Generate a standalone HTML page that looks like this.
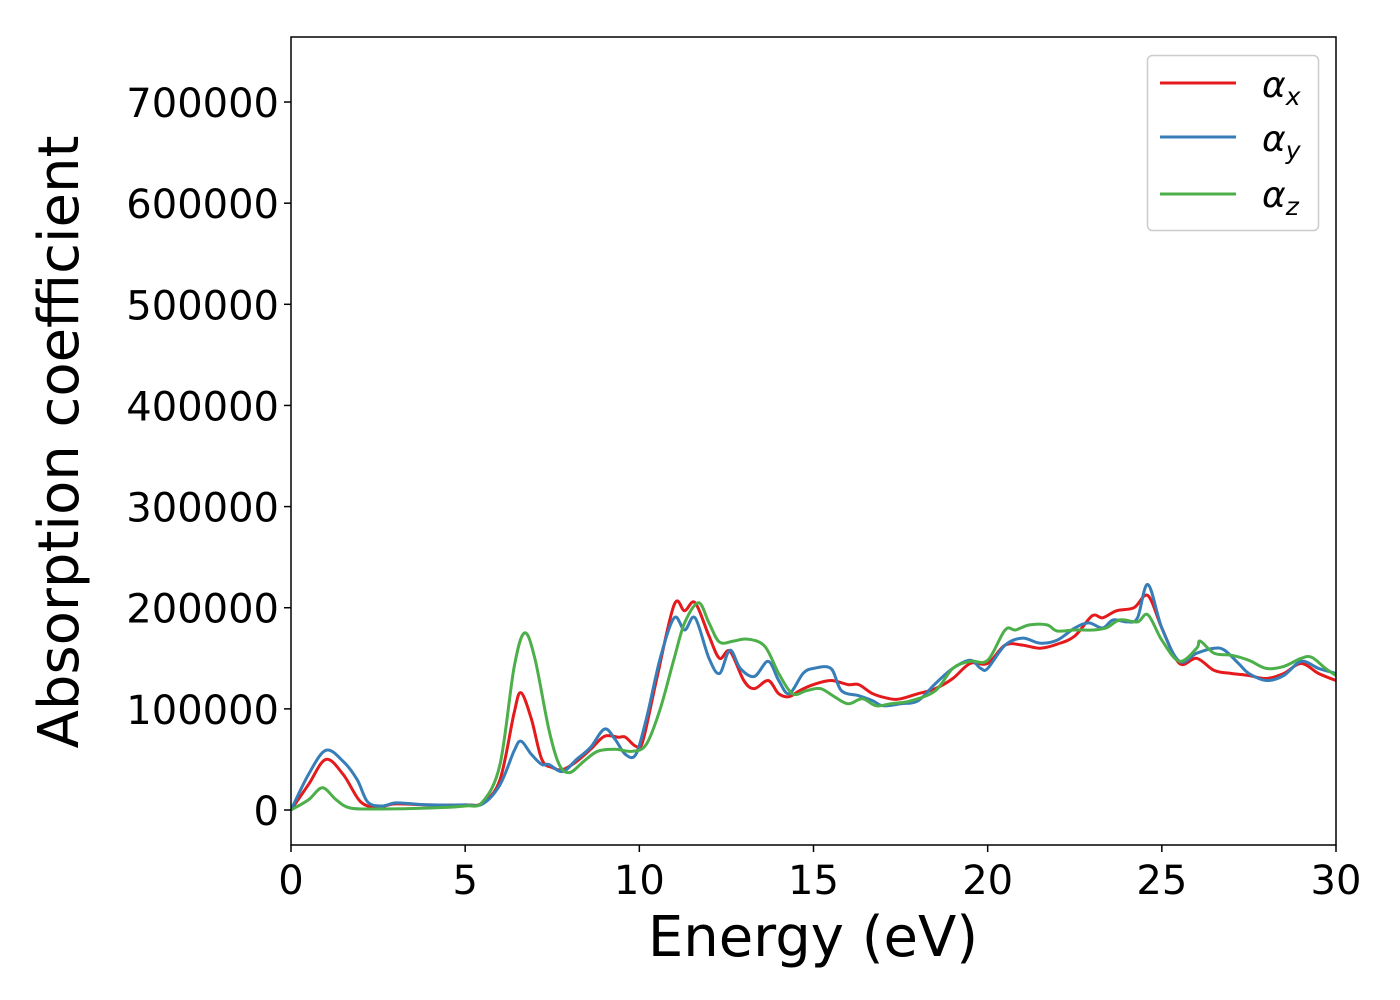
<!DOCTYPE html>
<html><head><meta charset="utf-8"><style>
html,body{margin:0;padding:0;background:#fff;}
svg{display:block;font-family:"DejaVu Sans","Liberation Sans",sans-serif;}
</style></head><body>
<svg id="chart" width="1400" height="1000" viewBox="0 0 1400 1000" xmlns="http://www.w3.org/2000/svg">
<rect x="0" y="0" width="1400" height="1000" fill="#fff"/>
<g id="plot"></g>
<g id="axes"></g>
<text x="813" y="956" font-size="56" text-anchor="middle" fill="#000">Energy (eV)</text>
<text transform="translate(78,442) rotate(-90)" font-size="56" text-anchor="middle" fill="#000">Absorption coefficient</text>
<g>
<rect x="1147.5" y="55.5" width="171" height="175" rx="5" fill="#fff" stroke="#ccc" stroke-width="1.5"/>
<line x1="1160" y1="83" x2="1236" y2="83" stroke="#e41a1c" stroke-width="3"/>
<line x1="1160" y1="137" x2="1236" y2="137" stroke="#377eb8" stroke-width="3"/>
<line x1="1160" y1="194" x2="1236" y2="194" stroke="#4daf4a" stroke-width="3"/>
<text x="1262" y="97" font-size="36" font-style="italic">α<tspan font-size="25" dy="8">x</tspan></text>
<text x="1262" y="151" font-size="36" font-style="italic">α<tspan font-size="25" dy="8">y</tspan></text>
<text x="1262" y="207" font-size="36" font-style="italic">α<tspan font-size="25" dy="8">z</tspan></text>
</g>
</svg>
<script>
const xTicks=[0,5,10,15,20,25,30];
const yTicks=[0,100000,200000,300000,400000,500000,600000,700000];
const ex=[0,0.5,1.0,1.5,2.0,2.5,3,4,5,5.5,6,6.4,6.6,6.9,7.2,7.5,7.8,8.2,8.6,9.0,9.4,9.6,9.9,10.1,10.5,11.0,11.3,11.6,12.0,12.3,12.6,13.0,13.3,13.7,14.0,14.3,14.6,15.0,15.5,16.0,16.3,16.7,17.2,17.5,18.0,18.5,19.0,19.5,20.0,20.5,21.0,21.5,22.0,22.5,23.0,23.3,23.7,24.2,24.6,25.0,25.5,26.0,26.5,27.0,27.5,28.0,28.5,29.0,29.5,30];
const ax=[0,25,50,35,8,3,6,5,5,7,30,95,116,90,50,42,40,48,60,73,72,72,63,68,130,203,197,205,172,150,157,128,120,128,115,112,118,124,128,124,124,115,110,110,115,120,130,145,145,163,163,160,164,172,192,190,197,200,212,180,145,150,138,135,133,130,135,145,135,128];
const ey=[0,0.5,1.0,1.5,1.9,2.2,2.6,3,3.5,4,5,5.5,6,6.4,6.6,6.9,7.2,7.4,7.8,8.2,8.6,9.0,9.3,9.6,9.9,10.2,10.6,11.0,11.3,11.6,12.0,12.3,12.6,12.9,13.3,13.7,14.0,14.3,14.7,15.0,15.5,15.8,16.3,16.7,17.0,17.5,18.0,18.5,19.0,19.5,19.8,20.0,20.5,21.0,21.5,22.0,22.5,22.9,23.3,23.6,24.0,24.3,24.6,25.0,25.5,26.0,26.5,26.8,27.2,27.5,28.0,28.5,29.0,29.5,30];
const ay=[0,35,59,48,30,8,4,7,6,5,5,6,25,58,68,55,45,45,38,50,62,80,70,55,55,90,150,190,178,190,150,135,158,140,132,147,128,115,135,140,140,118,113,108,103,105,108,125,140,148,140,140,163,170,165,168,180,185,180,188,186,190,223,180,147,155,160,158,145,135,128,133,147,140,135];
const ez=[0,0.5,0.9,1.3,1.7,2.5,4,5,5.5,6.0,6.4,6.7,7.0,7.4,7.7,8.0,8.4,8.8,9.3,9.8,10.2,10.6,11.0,11.3,11.7,12.0,12.3,12.7,13.1,13.6,14.0,14.4,14.8,15.2,15.6,16.0,16.4,16.8,17.2,17.8,18.5,19.0,19.5,20.0,20.5,20.8,21.2,21.7,22.0,22.5,23.0,23.4,23.8,24.3,24.6,25.0,25.5,26.0,26.1,26.5,27.0,27.5,28.0,28.5,29.0,29.3,29.7,30];
const az=[0,10,22,10,2,1,2,4,8,45,140,175,150,80,45,37,48,58,60,58,65,100,150,185,205,185,166,167,169,162,135,115,118,120,112,105,110,103,105,108,118,140,147,148,178,178,183,183,177,178,178,180,188,186,193,168,147,160,167,155,153,148,140,142,150,151,140,133];
const L=291,R=1336,T=37,B=845;
const xMin=0,xMax=30,yMin=-34600,yMax=764300;
const sx=v=>L+(v-xMin)/(xMax-xMin)*(R-L);
const sy=v=>B-(v-yMin)/(yMax-yMin)*(B-T);
const NS='http://www.w3.org/2000/svg';
const plot=document.getElementById('plot'),axes=document.getElementById('axes');
function mk(tag,attrs,parent){const e=document.createElementNS(NS,tag);for(const k in attrs)e.setAttribute(k,attrs[k]);parent.appendChild(e);return e;}
const cp=mk('clipPath',{id:'clip'},plot);mk('rect',{x:L,y:T,width:R-L,height:B-T},cp);
function pathFor(es,vs){
  const p=es.map((e,i)=>[sx(e),sy(vs[i]*1000)]);
  let d='M'+p[0][0].toFixed(1)+','+p[0][1].toFixed(1);
  for(let i=0;i<p.length-1;i++){
    const p0=p[Math.max(0,i-1)],p1=p[i],p2=p[i+1],p3=p[Math.min(p.length-1,i+2)];
    const c1=[p1[0]+(p2[0]-p0[0])/6,p1[1]+(p2[1]-p0[1])/6];
    const c2=[p2[0]-(p3[0]-p1[0])/6,p2[1]-(p3[1]-p1[1])/6];
    d+='C'+c1[0].toFixed(1)+','+c1[1].toFixed(1)+' '+c2[0].toFixed(1)+','+c2[1].toFixed(1)+' '+p2[0].toFixed(1)+','+p2[1].toFixed(1);
  }
  return d;
}
const g=mk('g',{'clip-path':'url(#clip)'},plot);
let s;
s=mk('path',{d:pathFor(ex,ax),fill:'none',stroke:'#e41a1c','stroke-width':3},g);


s=mk('path',{d:pathFor(ey,ay),fill:'none',stroke:'#377eb8','stroke-width':3},g);


s=mk('path',{d:pathFor(ez,az),fill:'none',stroke:'#4daf4a','stroke-width':3},g);


const fr=mk('rect',{x:L,y:T,width:R-L,height:B-T,fill:'none',stroke:'#000','stroke-width':1.5},axes);


xTicks.forEach(v=>{
  const x=sx(v);
  mk('line',{x1:x,y1:B,x2:x,y2:B+7,stroke:'#000','stroke-width':1.5},axes);
  const t=mk('text',{x:x,y:B+49,'font-size':40,'text-anchor':'middle',fill:'#000'},axes);
  t.textContent=v;
  
  
});
yTicks.forEach(v=>{
  const y=sy(v);
  mk('line',{x1:L-7,y1:y,x2:L,y2:y,stroke:'#000','stroke-width':1.5},axes);
  const t=mk('text',{x:L-12,y:y+15,'font-size':40,'text-anchor':'end',fill:'#000'},axes);
  t.textContent=v;
  
  
});
</script>
</body></html>
